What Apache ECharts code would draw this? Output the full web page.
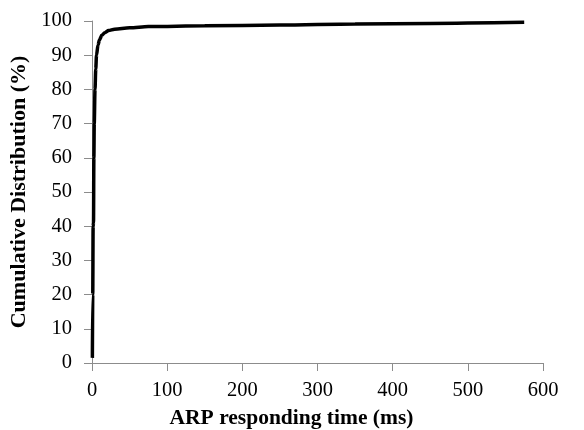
<!DOCTYPE html>
<html lang="en">
<head>
    <meta charset="UTF-8">
    <title>ARP responding time CDF</title>
    <style>
        body{ margin:0; padding:0; background:#fff; }
        #main{ width:584px; height:430px; }
    </style>
</head>
<body>
<div id="main"></div>
<script src="https://cdn.jsdelivr.net/npm/echarts@6/dist/echarts.min.js"></script>
<script>
    // responding time (ms) and cumulative distribution (%)
    var timeMs = [0.5, 1, 1.5, 2, 2.5, 3, 4, 5, 6, 8, 10, 13, 17, 22, 30, 50, 75, 150, 250, 350, 450, 575];
    var cdfPct = [1.5, 20, 40, 41, 60, 70, 80, 86, 90, 93, 94.5, 95.8, 96.6, 97.2, 97.6, 98, 98.4, 98.6, 98.8, 99.1, 99.3, 99.6];

    var xTicks = [0, 100, 200, 300, 400, 500, 600];
    var yTicks = [0, 10, 20, 30, 40, 50, 60, 70, 80, 90, 100];

    var points = [];
    for (var i = 0; i < timeMs.length; i++) {
        points.push([timeMs[i], cdfPct[i]]);
    }

    var font = '"Liberation Serif", "Times New Roman", serif';
    var axisGray = '#8c8c8c';

    var myChart = echarts.init(document.getElementById('main'));
    var option = {
        animation: false,
        backgroundColor: '#fff',
        grid: { left: 92, right: 41, top: 21, bottom: 67, outerBoundsMode: 'none' },
        xAxis: {
            type: 'value',
            min: xTicks[0],
            max: xTicks[xTicks.length - 1],
            interval: 100,
            name: 'ARP responding time (ms)',
            nameLocation: 'middle',
            nameGap: 44,
            nameTextStyle: { fontFamily: font, fontWeight: 'bold', fontSize: 21.5, color: '#000', padding: [0, 52, 0, 0] },
            axisLine: { lineStyle: { color: axisGray, width: 1 } },
            axisTick: { show: true, inside: false, length: 8, lineStyle: { color: axisGray } },
            axisLabel: { fontFamily: font, fontSize: 20.5, color: '#000', margin: 17 },
            splitLine: { show: false }
        },
        yAxis: {
            type: 'value',
            min: yTicks[0],
            max: yTicks[yTicks.length - 1],
            interval: 10,
            name: 'Cumulative Distribution (%)',
            nameLocation: 'middle',
            nameGap: 55,
            nameTextStyle: { fontFamily: font, fontWeight: 'bold', fontSize: 22, color: '#000' },
            axisLine: { show: true, lineStyle: { color: axisGray, width: 1 } },
            axisTick: { show: true, inside: false, length: 8, lineStyle: { color: axisGray } },
            axisLabel: { fontFamily: font, fontSize: 20.5, color: '#000', margin: 20 },
            splitLine: { show: false }
        },
        series: [{
            type: 'line',
            data: points,
            showSymbol: false,
            smooth: 0.3,
            smoothMonotone: 'x',
            lineStyle: { color: '#000', width: 3.5 }
        }]
    };
    myChart.setOption(option);
</script>
</body>
</html>
